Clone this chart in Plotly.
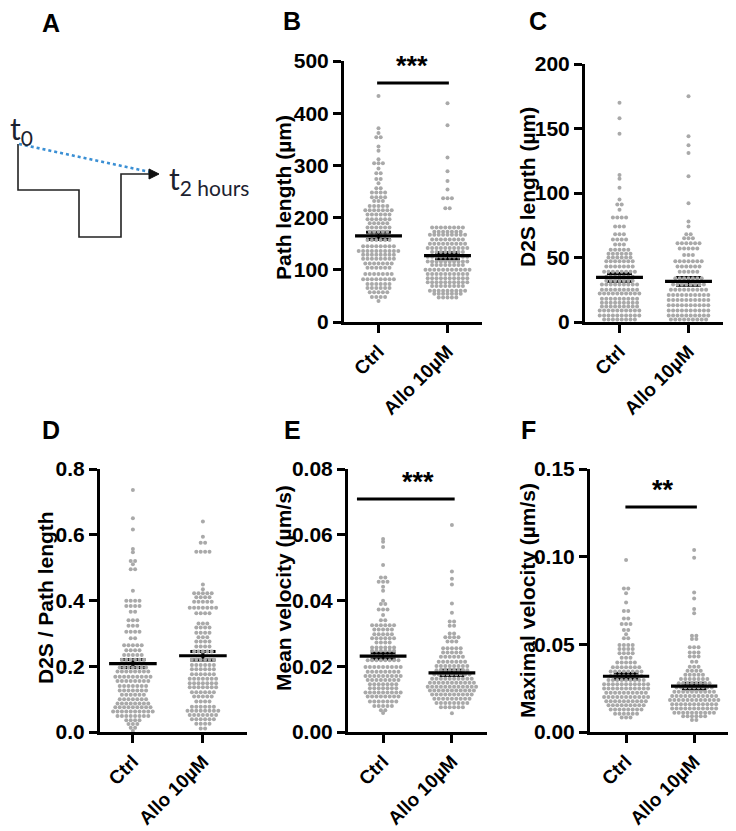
import plotly.graph_objects as go

# ---------------- data ----------------
groups = ["Ctrl", "Allo 10µM"]

# Panel B - Path length (µm): row values and number of dots in each row
b_ctrl_vals = [433, 371, 362, 354, 336, 328, 312, 304, 294, 285, 274, 266, 256, 248, 239, 232, 222, 214, 206,
               197, 189, 181, 173, 165, 157, 145, 136, 129, 121, 112, 104, 92, 82, 73, 65, 57, 48, 40]
b_ctrl_counts = [1, 1, 1, 2, 1, 1, 1, 3, 1, 2, 2, 1, 2, 4, 4, 3, 5, 7, 6,
                 6, 5, 6, 5, 4, 6, 8, 10, 8, 8, 7, 6, 7, 8, 6, 6, 5, 4, 1]
b_allo_vals = [419, 377, 315, 289, 270, 254, 237, 218, 181, 173, 167, 158, 150, 142, 134, 125, 116, 109, 100,
               92, 84, 76, 69, 60, 54, 47]
b_allo_counts = [1, 1, 1, 1, 1, 1, 3, 2, 8, 7, 9, 8, 9, 10, 8, 10, 10, 8, 11,
                 10, 10, 10, 8, 9, 7, 5]
b_mean = [165, 127]
b_sem = [7, 6]

# Panel C - D2S length (µm)
c_ctrl_vals = [170, 158, 146, 114, 111, 104, 95, 91, 87, 81, 74, 68, 64, 60, 56, 53, 50, 47, 43, 39, 35, 32,
               29, 25, 22, 18, 15, 12, 9, 5, 2]
c_ctrl_counts = [1, 1, 1, 1, 1, 1, 1, 2, 1, 4, 3, 3, 4, 3, 5, 6, 6, 7, 7, 8, 7, 7,
                 9, 9, 10, 9, 9, 9, 10, 10, 8]
c_allo_vals = [175, 144, 137, 131, 113, 92, 78, 74, 68, 65, 61, 57, 52, 47, 43, 39, 34, 29, 25, 21, 17, 13,
               9, 5, 2]
c_allo_counts = [1, 1, 1, 1, 1, 1, 1, 1, 2, 3, 6, 5, 3, 7, 6, 5, 7, 8, 9, 10, 10, 10,
                 10, 10, 9]
c_mean = [34.6, 31.5]
c_sem = [3, 3]

# Panel D - D2S / Path length
d_ctrl_vals = [0.736, 0.650, 0.616, 0.557, 0.547, 0.520, 0.510, 0.495, 0.430, 0.399, 0.383, 0.366, 0.340,
               0.323, 0.305, 0.285, 0.264, 0.249, 0.234, 0.220, 0.196, 0.184, 0.168, 0.155, 0.140, 0.126,
               0.113, 0.100, 0.087, 0.075, 0.062, 0.049, 0.036, 0.024, 0.013, 0.003]
d_ctrl_counts = [1, 1, 1, 1, 1, 2, 1, 2, 1, 4, 4, 2, 3,
                 3, 4, 2, 5, 4, 5, 6, 7, 8, 9, 8, 7, 7,
                 6, 7, 8, 9, 10, 8, 4, 3, 2, 1]
d_allo_vals = [0.640, 0.594, 0.576, 0.548, 0.449, 0.434, 0.422, 0.410, 0.396, 0.378, 0.361, 0.330, 0.318,
               0.302, 0.288, 0.275, 0.260, 0.245, 0.220, 0.204, 0.191, 0.176, 0.162, 0.148, 0.136, 0.121,
               0.108, 0.093, 0.077, 0.065, 0.052, 0.039, 0.025, 0.011]
d_allo_counts = [1, 1, 2, 4, 1, 1, 5, 4, 5, 7, 4, 3, 4,
                 4, 3, 4, 4, 5, 6, 6, 6, 6, 7, 7, 7, 6,
                 5, 4, 6, 8, 7, 6, 4, 2]
d_mean = [0.208, 0.232]
d_sem = [0.012, 0.013]

# Panel E - Mean velocity (µm/s)
e_ctrl_vals = [0.0587, 0.0579, 0.0563, 0.0508, 0.0470, 0.0457, 0.0442, 0.0430, 0.0399, 0.0389, 0.0373,
               0.0356, 0.0340, 0.0325, 0.0312, 0.0297, 0.0285, 0.0272, 0.0257, 0.0247, 0.0232, 0.0218,
               0.0198, 0.0183, 0.0170, 0.0158, 0.0145, 0.0133, 0.0120, 0.0108, 0.0093, 0.0079, 0.0066, 0.0058]
e_ctrl_counts = [1, 1, 1, 1, 2, 3, 1, 1, 1, 2, 3,
                 1, 2, 6, 5, 5, 6, 4, 6, 6, 6, 8,
                 9, 8, 9, 8, 7, 7, 9, 8, 7, 5, 2, 1]
e_allo_vals = [0.0630, 0.0488, 0.0466, 0.0449, 0.0391, 0.0363, 0.0336, 0.0323, 0.0300, 0.0288, 0.0275,
               0.0255, 0.0242, 0.0229, 0.0214, 0.0201, 0.0188, 0.0175, 0.0162, 0.0150, 0.0138, 0.0126,
               0.0114, 0.0101, 0.0088, 0.0075, 0.0057]
e_allo_counts = [1, 1, 1, 1, 1, 1, 2, 2, 2, 4, 3,
                 5, 5, 6, 7, 8, 8, 9, 10, 11, 12, 11,
                 10, 9, 8, 6, 1]
e_mean = [0.0231, 0.0180]
e_sem = [0.0009, 0.0008]

# Panel F - Maximal velocity (µm/s)
f_ctrl_vals = [0.0981, 0.0819, 0.0791, 0.0738, 0.0690, 0.0648, 0.0616, 0.0582, 0.0557, 0.0534, 0.0496,
               0.0473, 0.0449, 0.0424, 0.0396, 0.0369, 0.0345, 0.0320, 0.0296, 0.0272, 0.0248, 0.0224,
               0.0200, 0.0176, 0.0152, 0.0128, 0.0104, 0.0082]
f_ctrl_counts = [1, 2, 1, 1, 2, 2, 3, 2, 1, 2, 4,
                 4, 4, 3, 5, 7, 8, 8, 9, 11, 11, 10,
                 11, 10, 9, 8, 6, 3]
f_allo_vals = [0.1038, 0.0994, 0.0795, 0.0762, 0.0701, 0.0677, 0.0549, 0.0530, 0.0483, 0.0454, 0.0430,
               0.0401, 0.0372, 0.0350, 0.0326, 0.0302, 0.0278, 0.0254, 0.0230, 0.0206, 0.0182, 0.0158,
               0.0134, 0.0110, 0.0090, 0.0068]
f_allo_counts = [1, 1, 1, 1, 1, 1, 2, 2, 3, 3, 3,
                 2, 3, 4, 5, 7, 8, 9, 10, 11, 12, 11,
                 11, 10, 6, 2]
f_mean = [0.0318, 0.0262]
f_sem = [0.0016, 0.0016]

# tick labels
b_ticks = [0, 100, 200, 300, 400, 500]
c_ticks = [0, 50, 100, 150, 200]
d_ticks = [0.0, 0.2, 0.4, 0.6, 0.8]
e_ticks = [0.00, 0.02, 0.04, 0.06, 0.08]
f_ticks = [0.00, 0.05, 0.10, 0.15]
b_ticktext = ["0", "100", "200", "300", "400", "500"]
c_ticktext = ["0", "50", "100", "150", "200"]
d_ticktext = ["0.0", "0.2", "0.4", "0.6", "0.8"]
e_ticktext = ["0.00", "0.02", "0.04", "0.06", "0.08"]
f_ticktext = ["0.00", "0.05", "0.10", "0.15"]

# significance: (label, bar height)
b_sig = ("***", 458)
e_sig = ("***", 0.0709)
f_sig = ("**", 0.1283)

# ---------------- figure ----------------
W, H = 736, 831
OFF = 8  # the page body adds an 8 px margin; design coordinates are screen pixels
FONT = "Liberation Sans, Arial, sans-serif"
fig = go.Figure()


def px(x):
    return (x - OFF) / W


def py(y):
    return 1 - (y - OFF) / H


def swarm(vals, counts, center, dx):
    xs, ys = [], []
    for v, n in zip(vals, counts):
        for i in range(n):
            xs.append(center + (i - (n - 1) / 2) * dx)
            ys.append(v)
    return xs, ys


panels = [
    dict(letter="B", letter_xy=(292, 21), dom=(344, 482, 61, 322), xr=(-0.5, 1.5), yr=(0, 500),
         tv=b_ticks, tt=b_ticktext, title="Path length (µm)", title_xy=(283, 198),
         data=[(b_ctrl_vals, b_ctrl_counts), (b_allo_vals, b_allo_counts)], mean=b_mean, sem=b_sem,
         sig=b_sig, sig_x=(-0.02, 1.02), star_x=0.49),
    dict(letter="C", letter_xy=(538, 21), dom=(585, 723, 64, 322), xr=(-0.5, 1.5), yr=(0, 200),
         tv=c_ticks, tt=c_ticktext, title="D2S length (µm)", title_xy=(527, 187),
         data=[(c_ctrl_vals, c_ctrl_counts), (c_allo_vals, c_allo_counts)], mean=c_mean, sem=c_sem,
         sig=None),
    dict(letter="D", letter_xy=(51, 430), dom=(100, 247, 469, 732), xr=(-0.47, 1.63), yr=(0, 0.8),
         tv=d_ticks, tt=d_ticktext, title="D2S / Path length", title_xy=(45, 598),
         data=[(d_ctrl_vals, d_ctrl_counts), (d_allo_vals, d_allo_counts)], mean=d_mean, sem=d_sem,
         sig=None),
    dict(letter="E", letter_xy=(292, 430), dom=(348, 487, 469, 732), xr=(-0.51, 1.51), yr=(0, 0.08),
         tv=e_ticks, tt=e_ticktext, title="Mean velocity (µm/s)", title_xy=(283, 588),
         data=[(e_ctrl_vals, e_ctrl_counts), (e_allo_vals, e_allo_counts)], mean=e_mean, sem=e_sem,
         sig=e_sig, sig_x=(-0.38, 1.04), star_x=0.5),
    dict(letter="F", letter_xy=(528, 430), dom=(590, 735, 469, 732), xr=(-0.53, 1.6), yr=(0, 0.15),
         tv=f_ticks, tt=f_ticktext, title="Maximal velocity (µm/s)", title_xy=(527, 601),
         data=[(f_ctrl_vals, f_ctrl_counts), (f_allo_vals, f_allo_counts)], mean=f_mean, sem=f_sem,
         sig=f_sig, sig_x=(-0.01, 1.04), star_x=0.54),
]

annotations = []
layout_axes = {}

for k, p in enumerate(panels, start=1):
    sx = "" if k == 1 else str(k)
    xa, ya = "x" + sx, "y" + sx
    x0, x1, y0, y1 = p["dom"]
    ppu = (x1 - x0) / (p["xr"][1] - p["xr"][0])
    dx = 4.4 / ppu

    # SEM error bars (under the dots)
    ex, ey = [], []
    for gi, (m, s) in enumerate(zip(p["mean"], p["sem"])):
        for yv in (m - s, m + s):
            ex += [gi - 0.18, gi + 0.18, None]
            ey += [yv, yv, None]
        ex += [gi, gi, None]
        ey += [m - s, m + s, None]
    fig.add_trace(go.Scatter(x=ex, y=ey, mode="lines", line=dict(color="black", width=3),
                             xaxis=xa, yaxis=ya, showlegend=False, hoverinfo="skip"))

    # dots
    for gi, (vals, counts) in enumerate(p["data"]):
        xs, ys = swarm(vals, counts, gi, dx)
        fig.add_trace(go.Scatter(x=xs, y=ys, mode="markers",
                                 marker=dict(color="#a9a9a9", size=4, line=dict(width=0)),
                                 xaxis=xa, yaxis=ya, showlegend=False, cliponaxis=False,
                                 name=groups[gi]))

    # mean lines
    mx, my = [], []
    for gi, m in enumerate(p["mean"]):
        mx += [gi - 0.34, gi + 0.34, None]
        my += [m, m, None]
    fig.add_trace(go.Scatter(x=mx, y=my, mode="lines", line=dict(color="black", width=3.2),
                             xaxis=xa, yaxis=ya, showlegend=False, hoverinfo="skip"))

    # significance bar
    if p["sig"]:
        label, hy = p["sig"]
        fig.add_trace(go.Scatter(x=list(p["sig_x"]), y=[hy, hy], mode="lines",
                                 line=dict(color="black", width=3),
                                 xaxis=xa, yaxis=ya, showlegend=False, hoverinfo="skip"))
        annotations.append(dict(x=p["star_x"], y=hy, xref=xa, yref=ya, text=label, showarrow=False,
                                yanchor="bottom", yshift=0,
                                font=dict(family=FONT, size=27, color="black", weight="bold")))

    layout_axes["xaxis" + sx] = dict(
        domain=[px(x0), px(x1)], range=list(p["xr"]), anchor=ya, automargin=False,
        tickmode="array", tickvals=[0, 1], ticktext=groups, tickangle=-45,
        ticks="outside", ticklen=8, tickwidth=3, tickcolor="black",
        showline=True, linewidth=3, linecolor="black", showgrid=False, zeroline=False,
        tickfont=dict(family=FONT, size=19, color="black", weight="bold"), fixedrange=True)
    layout_axes["yaxis" + sx] = dict(
        domain=[py(y1), py(y0)], range=list(p["yr"]), anchor=xa, automargin=False,
        tickmode="array", tickvals=p["tv"], ticktext=p["tt"],
        ticks="outside", ticklen=8, tickwidth=3, tickcolor="black",
        showline=True, linewidth=3, linecolor="black", showgrid=False, zeroline=False,
        tickfont=dict(family=FONT, size=21, color="black", weight="bold"), fixedrange=True)

    # axis title
    tx, ty = p["title_xy"]
    annotations.append(dict(x=px(tx), y=py(ty), xref="paper", yref="paper", text=p["title"],
                            textangle=-90, showarrow=False, xanchor="center", yanchor="middle",
                            font=dict(family=FONT, size=21, color="black", weight="bold")))
    # panel letter
    lx, ly = p["letter_xy"]
    annotations.append(dict(x=px(lx), y=py(ly), xref="paper", yref="paper", text=p["letter"],
                            showarrow=False, xanchor="center", yanchor="middle",
                            font=dict(family=FONT, size=25, color="black", weight="bold")))

# ---------------- panel A: schematic ----------------
annotations.append(dict(x=px(51), y=py(23), xref="paper", yref="paper", text="A", showarrow=False,
                        xanchor="center", yanchor="middle",
                        font=dict(family=FONT, size=25, color="black", weight="bold")))


def path(points):
    return "M " + " L ".join(f"{px(x):.5f},{py(y):.5f}" for x, y in points)


shapes = [
    dict(type="path", xref="paper", yref="paper",
         path=path([(18, 144), (18, 190), (79, 190), (79, 237), (121, 237), (121, 174), (151, 174)]),
         line=dict(color="#222222", width=1.6)),
    dict(type="line", xref="paper", yref="paper", x0=px(19), y0=py(144), x1=px(150), y1=py(172),
         line=dict(color="#3a8fd4", width=2.6, dash="dot")),
    dict(type="path", xref="paper", yref="paper",
         path=path([(149, 169), (159, 174), (149, 179)]) + " Z",
         fillcolor="#111111", line=dict(color="#111111", width=1)),
]
annotations.append(dict(x=px(8), y=py(130), xref="paper", yref="paper",
                        text="t<sub>0</sub>", showarrow=False, xanchor="left", yanchor="middle",
                        font=dict(family="Lato, Open Sans, sans-serif", size=30, color="#1c2230")))
annotations.append(dict(x=px(167), y=py(180), xref="paper", yref="paper",
                        text="t<sub>2 hours</sub>", showarrow=False, xanchor="left", yanchor="middle",
                        font=dict(family="Lato, Open Sans, sans-serif", size=30, color="#1c2230")))

fig.update_layout(
    width=W, height=H, margin=dict(l=0, r=0, t=0, b=0, pad=0, autoexpand=False),
    paper_bgcolor="white", plot_bgcolor="white",
    showlegend=False, annotations=annotations, shapes=shapes,
    **layout_axes,
)

fig.write_html("out.html")
